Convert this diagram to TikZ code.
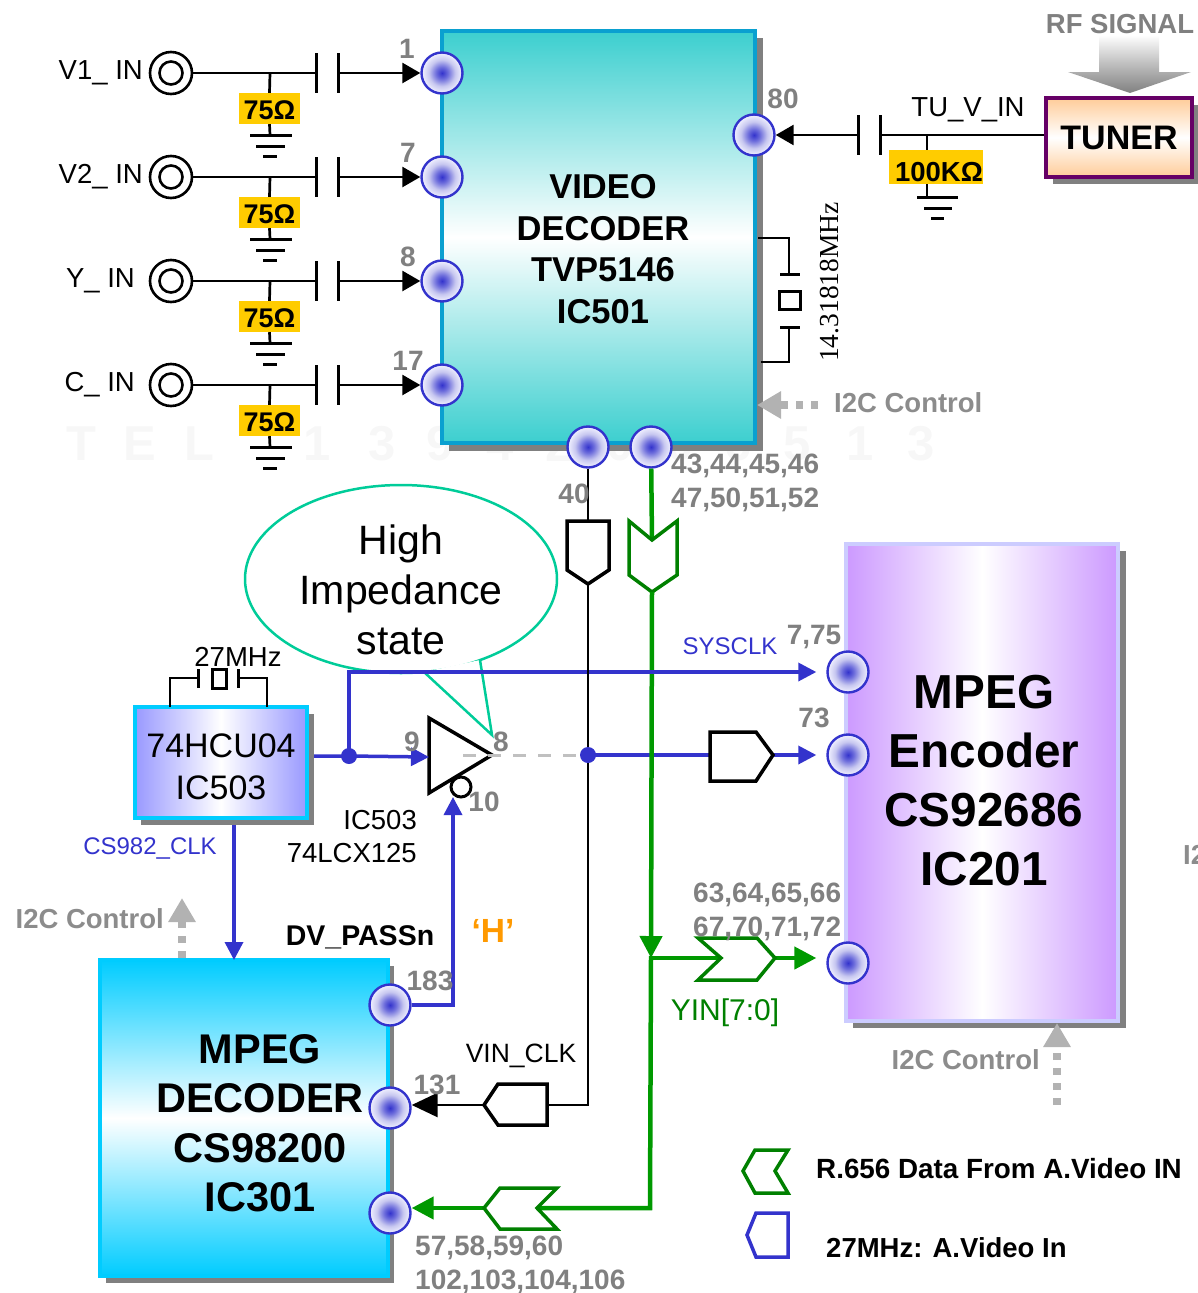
\documentclass[tikz,border=0pt]{standalone}
\usepackage{fontspec}
\setmainfont{Liberation Sans}
\newfontfamily\serifcrystal{Liberation Serif}
\usetikzlibrary{arrows.meta,shapes.geometric,calc}
\newcommand{\fs}[2]{\fontsize{#1}{#2}\selectfont}
\definecolor{pinblue}{HTML}{3333CC}
\definecolor{sigblue}{HTML}{3333CC}
\definecolor{siggreen}{HTML}{009900}
\definecolor{shapegreen}{HTML}{008000}
\definecolor{numgray}{HTML}{808080}
\definecolor{ctlgray}{HTML}{8C8C8C}
\definecolor{arrgray}{HTML}{B2B2B2}
\definecolor{shadowgray}{HTML}{808080}
\definecolor{resyellow}{HTML}{FFCC00}
\definecolor{calloutteal}{HTML}{00CC99}
\definecolor{wmgray}{HTML}{F7F7F7}
\definecolor{vdborder}{HTML}{0AA0D0}
\definecolor{vdfill}{HTML}{3CCFCF}
\definecolor{encborder}{HTML}{CCCCFF}
\definecolor{encfill}{HTML}{CC99FF}
\definecolor{cyanb}{HTML}{00CCFF}
\definecolor{hcufill}{HTML}{9999FF}
\definecolor{tunerb}{HTML}{660066}
\definecolor{tunerf}{HTML}{FFCC99}
\definecolor{midgray}{HTML}{BEBEBE}
\definecolor{dashgray}{HTML}{C0C0C0}
\definecolor{orangeh}{HTML}{FF9900}
\pgfdeclareradialshading{pinshade}{\pgfpointorigin}{rgb(0bp)=(0.2,0.2,0.8);rgb(7bp)=(0.42,0.42,0.86);rgb(16bp)=(0.78,0.78,0.94);rgb(25bp)=(0.95,0.95,1);rgb(50bp)=(1,1,1)}
\tikzset{
  pinnode/.style={circle,draw=pinblue,line width=2.4pt,minimum size=41pt,inner sep=0pt,shading=pinshade},
  jack/.style={circle,draw=black,line width=2.6pt,minimum size=42pt,inner sep=0pt},
  jackin/.style={circle,draw=black,line width=2.6pt,minimum size=23pt,inner sep=0pt},
  wire/.style={draw=black,line width=2.7pt},
  bluewire/.style={draw=sigblue,line width=3.5pt},
  greenwire/.style={draw=siggreen,line width=4.5pt},
  plate/.style={draw=black,line width=3pt},
  blacktip/.style={-{Triangle[length=18pt,width=20pt]}},
  bluetip/.style={-{Triangle[length=18pt,width=18pt]}},
  bigblacktip/.style={-{Triangle[length=26pt,width=24pt]}},
  greentip/.style={-{Triangle[length=22pt,width=22pt]}},
  ctlarrow/.style={draw=arrgray,line width=8pt,dash pattern=on 7pt off 8pt,-{Triangle[length=24pt,width=26pt,fill=arrgray]}},
  numlab/.style={text=numgray,font=\bfseries\fs{28}{34},inner sep=0pt,align=left},
  ctllab/.style={text=ctlgray,font=\bfseries\fs{27.5}{30},inner sep=0pt},
  plainlab/.style={text=black,font=\fs{27.5}{33},inner sep=0pt},
  bluelab/.style={text=sigblue,font=\fs{24}{26},inner sep=0pt},
  boldlab/.style={text=black,font=\bfseries\fs{27.5}{30},inner sep=0pt},
  blackshape/.style={draw=black,line width=3.5pt,fill=white,line join=miter},
  greenshape/.style={draw=shapegreen,line width=3.5pt,fill=white,line join=miter},
  blueshape/.style={draw=sigblue,line width=3.5pt,fill=white,line join=miter},
}
\begin{document}
\begin{tikzpicture}[x=1pt,y=-1pt]
\useasboundingbox (0,0) rectangle (1198,1293);
\clip (0,0) rectangle (1198,1293);
% watermark
\foreach \wx/\wc [count=\wi] in {81/T,140/E,199/L,317/1,382/3,440/9,500/4,559/2,620/0,680/0,738/6,797/5,860/1,921/3}
  \node[text=wmgray,font=\bfseries\fs{49}{49},inner sep=0pt] (wm\wi) at (\wx,444) {\wc};

% ---- chips
\fill[shadowgray] (449,38) rectangle (763,451);
\node[draw=vdborder,line width=4pt,inner sep=0pt,minimum width=313pt,minimum height=412pt,top color=vdfill,bottom color=vdfill,middle color=white] (vd) at (598.5,237) {};
\node[font=\bfseries\fs{34.5}{41.5},align=center,inner sep=0pt] (vdtxt) at (603,249) {VIDEO\\DECODER\\TVP5146\\IC501};

\fill[shadowgray] (853,551) rectangle (1126,1028);
\node[draw=encborder,line width=4pt,minimum width=272pt,minimum height=477pt,left color=encfill,right color=encfill,middle color=white,inner sep=0pt] (enc) at (982,782.5) {};
\node[font=\bfseries\fs{47.7}{59},align=center,inner sep=0pt] (enctxt) at (984,780.5) {MPEG\\Encoder\\CS92686\\IC201};

\fill[shadowgray] (106,966) rectangle (394,1283);
\node[draw=cyanb,line width=4pt,minimum width=288pt,minimum height=316pt,top color=cyanb,bottom color=cyanb,middle color=white,inner sep=0pt] (dec) at (244,1118) {};
\node[font=\bfseries\fs{41.5}{49.5},align=center,inner sep=0pt] (dectxt) at (260,1123) {MPEG\\DECODER\\CS98200\\IC301};

\fill[shadowgray] (141,714) rectangle (314,825);
\node[draw=cyanb,line width=4pt,minimum width=172pt,minimum height=111pt,left color=hcufill,right color=hcufill,middle color=white,inner sep=0pt] (hcu) at (221,762.5) {};
\node[font=\fs{34}{42},align=center,inner sep=0pt] (hcutxt) at (221,766.5) {74HCU04\\IC503};

\fill[shadowgray] (1053,105) rectangle (1198,184);
\node[draw=tunerb,line width=3.5pt,minimum width=146pt,minimum height=79pt,top color=tunerf,bottom color=tunerf,middle color=white,inner sep=0pt] (tuner) at (1119,137.5) {};
\node[font=\bfseries\fs{34}{34},inner sep=0pt] (tunertxt) at (1119,138) {TUNER};

% ---- pins
\foreach \n/\px/\py in {p1/442/73,p7/442/177,p8/442/281,p17/442/385,p80/754/135,p40/588/447,pdata/651/447,
  e775/848/672,e73/848/755,e63/848/963,d183/390/1005,d131/390/1108,d57/390/1213}
  \node[pinnode] (\n) at (\px,\py) {};

% ---- analog inputs
\foreach \pn/\py/\lab/\num/\nx/\lx in {p1/73/V1\_ IN/1/407/143,p7/177/V2\_ IN/7/408/143,p8/281/Y\_ IN/8/408/135,p17/385/C\_ IN/17/408/135}{
  \node[jack] (jk\num) at (171,\py) {};
  \node[jackin] (ji\num) at (171,\py) {};
  \node[plainlab,anchor=east] (lb\num) at (\lx,\py) {\lab};
  \node[numlab,anchor=center] (nm\num) at (\nx,\py-24) {\num};
  \coordinate (ca\num) at (316,\py);
  \coordinate (cb\num) at (338,\py);
  \coordinate (jn\num) at (270,\py);
  \node[fill=resyellow,inner sep=0pt,minimum width=61pt,minimum height=31pt] (r\num) at (269.5,\py+35.5) {};
  \node[text=black,font=\bfseries\fs{27}{27},inner sep=0pt] (rt\num) at (269.5,\py+37.5) {75Ω};
  \coordinate (gd\num) at (270,\py+62);
  \draw[wire] (jk\num) -- (ca\num);
  \draw[plate] (ca\num) ++(0,-20) -- ++(0,40);
  \draw[plate] (cb\num) ++(0,-20) -- ++(0,40);
  \draw[wire,blacktip] (cb\num) -- (\pn);
  \draw[wire] (jn\num) -- (r\num.north);
  \draw[wire] (r\num.south) -- (gd\num);
  \draw[plate] (gd\num) ++(-20,0) -- ++(42,0);
  \draw[plate] (gd\num) ++(-14,11) -- ++(29,0);
  \draw[plate] (gd\num) ++(-7,21) -- ++(14,0);
}

% ---- tuner side
\node[numlab] (n80) at (783,99) {80};
\coordinate (c80a) at (858,135);
\coordinate (c80b) at (880,135);
\draw[wire,blacktip] (c80a) -- (p80);
\draw[plate] (c80a) ++(0,-20) -- ++(0,40);
\draw[plate] (c80b) ++(0,-20) -- ++(0,40);
\draw[wire] (c80b) -- (tuner.west |- c80b);
\node[plainlab] (tuv) at (968,110) {TU\_V\_IN};
\coordinate (jt) at (927,135);
\node[fill=resyellow,inner sep=0pt,minimum width=94pt,minimum height=34pt] (r100) at (936,167) {};
\node[text=black,font=\bfseries\fs{27.5}{27.5},inner sep=0pt] (r100t) at (939,172) {100KΩ};
\coordinate (gt) at (927,197);
\draw[wire] (jt) -- (r100.north -| jt);
\draw[wire] (r100.south -| jt) -- (gt);
\draw[plate] (917,197) -- (958,197);
\draw[plate] (924,208) -- (952,208);
\draw[plate] (931,218) -- (944,218);
\node[text=numgray,font=\bfseries\fs{27.5}{30},inner sep=0pt] (rf) at (1120,24) {RF SIGNAL};
\shade[top color=white,bottom color=numgray,middle color=midgray] (1099,35) -- (1159,35) -- (1159,72) -- (1191,72) -- (1130,93) -- (1068,72) -- (1099,72) -- cycle;

% ---- crystal 14.3
\coordinate (x1a) at (758,238);
\coordinate (x1b) at (789,274);
\coordinate (x2a) at (761,362);
\coordinate (x2b) at (789,327);
\draw[wire] (x1a) -| (x1b);
\draw[wire] (x2a) -| (x2b);
\draw[plate] (780,274) -- (800,274);
\draw[plate] (780,327) -- (800,327);
\node[draw=black,line width=3pt,minimum width=21pt,minimum height=18pt,inner sep=0pt] (xt1) at (789.5,300.5) {};
\node[rotate=90,font=\serifcrystal\fs{27.5}{30},inner sep=0pt] (xl1) at (830,282) {14.31818MHz};

% ---- I2C controls
\coordinate (c1s) at (818,405);
\draw[ctlarrow] (c1s) -- (vd.east |- c1s);
\node[ctllab,anchor=west] (c1t) at (834,403) {I2C Control};
\coordinate (c2s) at (1057,1105);
\draw[ctlarrow] (c2s) -- (1057,1023);
\node[ctllab,anchor=east] (c2t) at (1040,1060) {I2C Control};
\coordinate (c3s) at (182,958);
\draw[ctlarrow] (c3s) -- (182,898);
\node[ctllab,anchor=east] (c3t) at (164,919) {I2C Control};
\node[ctllab,anchor=west] (c4t) at (1183,855) {I2};

% ---- callout
\node[ellipse,draw=calloutteal,line width=2.5pt,fill=white,minimum width=312pt,minimum height=188pt,inner sep=0pt] (call) at (401,579) {};
\node[align=center,font=\fs{41}{50},inner sep=0pt] (calltxt) at (401,590) {High\\Impedance\\state};
\coordinate (ta) at (424,672);
\coordinate (tb) at (492,735);
\coordinate (tc) at (480,660);
\fill[white] (ta) -- (tb) -- (tc) -- cycle;
\draw[calloutteal,line width=2.5pt] (ta) -- (tb) -- (tc);

% ---- data / clock nets
\coordinate (jb) at (349,756);
\coordinate (jv) at (588,755);
\coordinate (hcuout) at (314,756);
% buffer
\coordinate (bufin) at (429,757);
\coordinate (bufout) at (492,755);
\draw[black,line width=3.5pt,fill=white,line join=miter] (429,718) -- (bufout) -- (429,793) -- cycle;
\node[circle,draw=black,line width=3pt,fill=white,minimum size=20pt,inner sep=0pt] (bub) at (461,787) {};
\draw[bluewire,bluetip] (hcuout) -- (jb) -- (bufin);
\draw[draw=dashgray,line width=3pt,dash pattern=on 13pt off 12pt] (463,755) -- (jv);
\coordinate (s73a) at (710,755);
\coordinate (s73b) at (773,755);
\draw[bluewire] (jv) -- (s73a);
\draw[bluewire,bluetip,shorten >=10pt] (s73b) -- (e73);
\draw[blackshape] (710,732) -- (756,732) -- (s73b) -- (756,781) -- (710,781) -- cycle;
% green bus
\coordinate (gn1) at (652,540);
\coordinate (gt1) at (652,592);
\coordinate (gj1) at (651,958);
\coordinate (gj2) at (650,1208);
\coordinate (gn2) at (721,958);
\coordinate (gt2) at (775,958);
\coordinate (gn3) at (537,1208);
\coordinate (gt3) at (484,1208);
\draw[greenwire] (pdata) -- (gn1);
\draw[greenshape] (629,521) -- (gn1) -- (677,521) -- (677,575) -- (gt1) -- (629,575) -- cycle;
\draw[greenwire,greentip] (gt1) -- (gj1);
\draw[greenwire,line cap=rect] (gj1) -- (gj2) -- (gn3);
\draw[greenwire] (gj1) -- (gn2);
\draw[greenwire,greentip,shorten >=10pt] (gt2) -- (e63.west |- gt2);
\draw[greenshape] (698,938) -- (757,938) -- (gt2) -- (757,980) -- (698,980) -- (gn2) -- cycle;
\draw[greenwire,greentip] (gt3) -- (d57.east |- gt3);
\draw[greenshape] (500,1188) -- (557,1188) -- (gn3) -- (557,1229) -- (500,1229) -- (gt3) -- cycle;
% sysclk over the green bus
\coordinate (sys) at (349,672);
\draw[bluewire,bluetip,shorten >=10pt] (jb) -- (sys) -- (e775);
% black clock
\coordinate (k40a) at (588,521);
\coordinate (k40b) at (588,584);
\coordinate (kc) at (588,1105);
\coordinate (ks) at (547,1105);
\coordinate (kt) at (484,1105);
\draw[wire] (p40) -- (k40a);
\draw[blackshape] (567,521) -- (609,521) -- (609,570) -- (k40b) -- (567,570) -- cycle;
\draw[wire] (k40b) -- (kc) -- (ks);
\draw[blackshape] (547,1084) -- (498,1084) -- (kt) -- (498,1125) -- (547,1125) -- cycle;
\draw[wire,bigblacktip] (kt) -- (d131.east |- kt);
\fill[sigblue] (jb) circle (8);
\fill[sigblue] (jv) circle (8);
% control
\coordinate (dvc) at (453,1005);
\draw[bluewire,bluetip] (d183) -- (dvc) -- (453,797);
\coordinate (clk) at (234,825);
\draw[bluewire,bluetip] (clk) -- (234,960);
% crystal 27
\coordinate (xa) at (170,707);
\coordinate (xb) at (267,707);
\coordinate (xc) at (198,678);
\coordinate (xd) at (238,678);
\draw[wire] (xa) |- (xc);
\draw[wire] (xb) |- (xd);
\draw[plate] (198,669) -- (198,688);
\draw[plate] (238,669) -- (238,688);
\node[draw=black,line width=3pt,minimum width=14pt,minimum height=19pt,inner sep=0pt] (xt2) at (219,679) {};
\node[plainlab] (x27) at (238,657) {27MHz};

% ---- labels
\node[numlab,anchor=center] (n40) at (574,494) {40};
\node[numlab,anchor=north west] (n43) at (671,454) {43,44,45,46\\47,50,51,52};
\node[bluelab] (sysl) at (730,646) {SYSCLK};
\node[numlab] (n775) at (814,637) {7,75};
\node[numlab] (n73) at (814,718) {73};
\node[numlab,anchor=north west] (n63) at (693,883) {63,64,65,66\\67,70,71,72};
\node[text=shapegreen,font=\fs{30}{30},inner sep=0pt] (yin) at (725,1013) {YIN[7:0]};
\node[numlab] (n9) at (412,742) {9};
\node[numlab] (n8) at (501,742) {8};
\node[numlab] (n10) at (484,802) {10};
\node[plainlab,anchor=north east,align=right] (ic125) at (417,810) {IC503\\74LCX125};
\node[bluelab] (csl) at (150,848) {CS982\_CLK};
\node[boldlab,font=\bfseries\fs{28.5}{30}] (dv) at (360,937) {DV\_PASSn};
\node[text=orangeh,font=\bfseries\fs{33.5}{34},inner sep=0pt] (hh) at (493,931) {‘H’};
\node[numlab] (n183) at (430,981) {183};
\node[numlab] (n131) at (437,1085) {131};
\node[plainlab,font=\fs{26.5}{30}] (vin) at (521,1056) {VIN\_CLK};
\node[numlab,anchor=north west] (n57) at (415,1236) {57,58,59,60\\102,103,104,106};

% ---- legend
\draw[greenshape] (743,1171) -- (755,1150) -- (788,1150) -- (775,1171) -- (788,1193) -- (755,1193) -- cycle;
\draw[blueshape] (747,1235) -- (756,1213) -- (788,1213) -- (788,1257) -- (756,1257) -- cycle;
\node[boldlab,font=\bfseries\fs{27.8}{30},anchor=west] (lg1) at (816,1169) {R.656 Data From A.Video IN};
\node[boldlab,anchor=west] (lg2) at (826,1248) {27MHz: A.Video In};
\end{tikzpicture}
\end{document}
